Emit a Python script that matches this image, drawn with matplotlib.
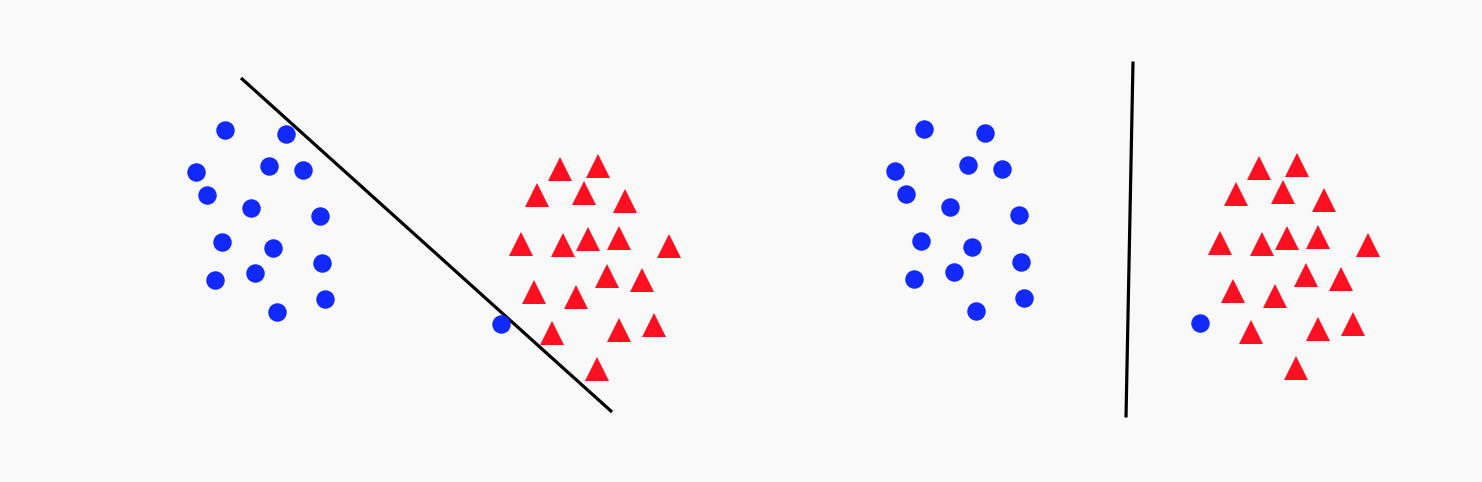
import matplotlib
matplotlib.use("Agg")
import matplotlib.pyplot as plt

# same toy dataset shown in both panels, only the separating line differs
blue_x = [225, 286, 196, 269, 303, 207, 251, 320, 222, 273, 322, 215, 255, 325, 277, 501]
blue_y = [352, 348, 310, 316, 312, 287, 274, 266, 240, 234, 219, 202, 209, 183, 170, 158]

red_x = [560, 598, 537, 584, 625, 521, 563, 588, 619, 669, 607, 642, 534, 576, 552, 619, 654, 597]
red_y = [313, 316, 287, 289, 281, 238, 237, 243, 244, 236, 206, 202, 190, 185, 149, 152, 157, 113]

# separating lines (x pair, y pair)
line_left_x = [241, 612]
line_left_y = [404, 70]
line_right_x = [434, 427]
line_right_y = [419, 63]

bg = "#f9f9f9"
blue = "#1128ff"
red = "#ff1020"

fig = plt.figure(figsize=(14.82, 4.82), dpi=100)
fig.patch.set_facecolor(bg)

ax1 = fig.add_axes([0, 0, 0.5, 1])
ax2 = fig.add_axes([0.5, 0, 0.5, 1])

panels = [
    (ax1, line_left_x, line_left_y, (0, 741), (0, 482)),
    (ax2, line_right_x, line_right_y, (42, 783), (-1.5, 480.5)),
]

for ax, lx, ly, xl, yl in panels:
    ax.set_facecolor(bg)
    ax.plot(lx, ly, color="black", lw=2.3, solid_capstyle="butt", zorder=1)
    ax.plot(blue_x, blue_y, "o", color=blue, ms=13.3, mew=0, zorder=2)
    ax.plot(red_x, red_y, "^", color=red, ms=17.5, mew=0, zorder=2)
    ax.set_xlim(*xl)
    ax.set_ylim(*yl)
    ax.axis("off")

fig.savefig("out.png", dpi=100, facecolor=bg)
